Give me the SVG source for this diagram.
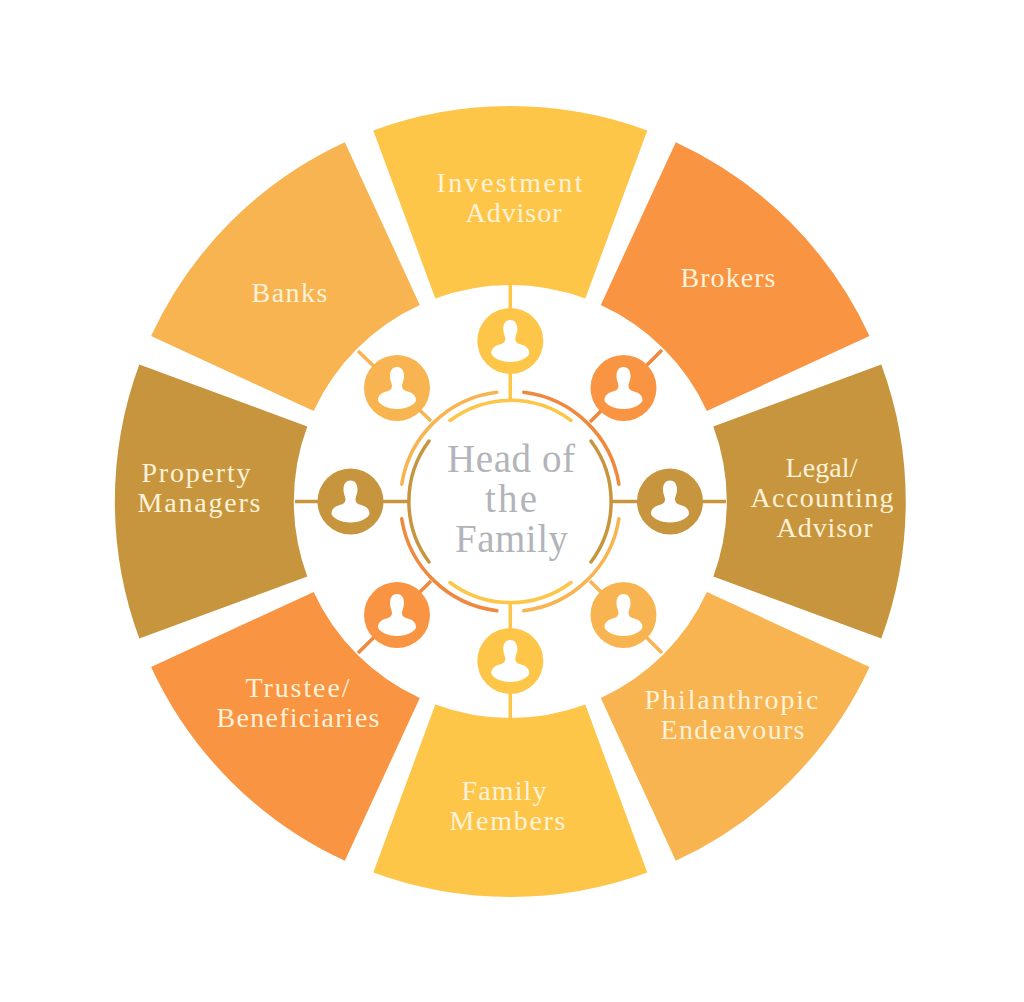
<svg xmlns="http://www.w3.org/2000/svg" width="1024" height="1002" viewBox="0 0 1024 1002">
<style>
.seg{stroke:none}
.y{fill:#FDC649}.o{fill:#F99443}.b{fill:#C6953D}.l{fill:#F7B450}
.sy{stroke:#FDC649}.so{stroke:#F0883E}.sb{stroke:#C6953D}.sl{stroke:#F7B450}
.t{font-family:"Liberation Serif","DejaVu Serif",serif;font-size:28px;fill:#FFF2D8;text-anchor:middle}
.c{font-family:"Liberation Serif","DejaVu Serif",serif;font-size:39px;fill:#B2B4B9;text-anchor:middle}
.conn{fill:none;stroke-width:3.5}
.arc{fill:none;stroke-width:3.5;stroke-linecap:round}
.head{fill:#fff}
</style>
<defs>
<path id="seg" d="M-137,-371A396,396 0 0 1 137,-371L75,-203A215,215 0 0 0 -75,-203Z"/>
<path id="person" d="M0,-21C5,-21 7,-17 7,-12C7,-7 5,-5 5,-2C5,2 9,3 12,4C16,5 19,8 19,12C19,16 10,21 0,21C-10,21 -19,16 -19,12C-19,8 -16,5 -12,4C-9,3 -5,2 -5,-2C-5,-5 -7,-7 -7,-12C-7,-17 -5,-21 0,-21Z"/>
</defs>
<rect width="1024" height="1002" fill="#fff"/>

<g id="connectors">
<path class="conn sy" d="M510.3,285V400"/>
<path class="conn so" d="M662,350L590,422"/>
<path class="conn sb" d="M612,501.5H726"/>
<path class="conn sl" d="M662,653L590,581"/>
<path class="conn sy" d="M510.3,603V718"/>
<path class="conn so" d="M358,653L431,581"/>
<path class="conn sb" d="M295,501.5H409"/>
<path class="conn sl" d="M358,351L431,421"/>
<path class="arc sy" d="M450,420.5A101,101 0 0 1 571,420.5"/>
<path class="arc sb" d="M591,441A101,101 0 0 1 591,562"/>
<path class="arc sy" d="M571,582.5A101,101 0 0 1 450,582.5"/>
<path class="arc sb" d="M429,562A101,101 0 0 1 429,441"/>
<path class="arc sl" d="M401.7,484.3A110,110 0 0 1 496.9,392.3"/>
<path class="arc so" d="M523.7,392.3A110,110 0 0 1 618.9,484.3"/>
<path class="arc sl" d="M618.9,518.7A110,110 0 0 1 523.7,610.7"/>
<path class="arc so" d="M496.9,610.7A110,110 0 0 1 401.7,518.7"/>
</g>

<g id="node-investment">
<use href="#seg" class="y" transform="translate(510.3,501.5)"/>
<text class="t" x="509.5" y="192" textLength="146">Investment</text>
<text class="t" x="513.5" y="222" textLength="96">Advisor</text>
<circle class="y" cx="510.3" cy="341" r="33"/>
<use href="#person" class="head" transform="translate(510.3,341)"/>
</g>
<g id="node-brokers">
<use href="#seg" class="o" transform="translate(510.3,501.5) rotate(45)"/>
<text class="t" x="728" y="287" textLength="95">Brokers</text>
<circle class="o" cx="623.5" cy="388" r="33"/>
<use href="#person" class="head" transform="translate(623.5,388)"/>
</g>
<g id="node-legal">
<use href="#seg" class="b" transform="translate(510.3,501.5) rotate(90)"/>
<text class="t" x="821.5" y="477" textLength="72">Legal/</text>
<text class="t" x="822" y="507" textLength="143">Accounting</text>
<text class="t" x="824.5" y="537" textLength="96">Advisor</text>
<circle class="b" cx="670" cy="501.5" r="33"/>
<use href="#person" class="head" transform="translate(670,501.5)"/>
</g>
<g id="node-philanthropic">
<use href="#seg" class="l" transform="translate(510.3,501.5) rotate(135)"/>
<text class="t" x="731.5" y="709" textLength="174">Philanthropic</text>
<text class="t" x="732.5" y="739" textLength="144">Endeavours</text>
<circle class="l" cx="623.5" cy="615" r="33"/>
<use href="#person" class="head" transform="translate(623.5,615)"/>
</g>
<g id="node-family-members">
<use href="#seg" class="y" transform="translate(510.3,501.5) rotate(180)"/>
<text class="t" x="504" y="800" textLength="85">Family</text>
<text class="t" x="507.5" y="830" textLength="116">Members</text>
<circle class="y" cx="510.3" cy="661" r="33"/>
<use href="#person" class="head" transform="translate(510.3,661)"/>
</g>
<g id="node-trustee">
<use href="#seg" class="o" transform="translate(510.3,501.5) rotate(225)"/>
<text class="t" x="297.5" y="697" textLength="104">Trustee/</text>
<text class="t" x="298" y="727" textLength="163">Beneficiaries</text>
<circle class="o" cx="397" cy="615" r="33"/>
<use href="#person" class="head" transform="translate(397,615)"/>
</g>
<g id="node-property">
<use href="#seg" class="b" transform="translate(510.3,501.5) rotate(270)"/>
<text class="t" x="196" y="482" textLength="109">Property</text>
<text class="t" x="199" y="512" textLength="123">Managers</text>
<circle class="b" cx="350.5" cy="501.5" r="33"/>
<use href="#person" class="head" transform="translate(350.5,501.5)"/>
</g>
<g id="node-banks">
<use href="#seg" class="l" transform="translate(510.3,501.5) rotate(315)"/>
<text class="t" x="289.5" y="302" textLength="76">Banks</text>
<circle class="l" cx="397" cy="388" r="33"/>
<use href="#person" class="head" transform="translate(397,388)"/>
</g>
<g id="node-head">
<text class="c" x="511" y="472" textLength="128">Head of</text>
<text class="c" x="511" y="512" textLength="52">the</text>
<text class="c" x="511.5" y="552" textLength="113">Family</text>
</g>
</svg>
